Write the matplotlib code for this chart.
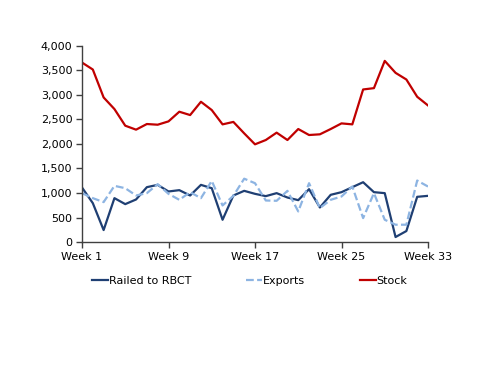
import matplotlib
matplotlib.use("Agg")
import matplotlib.pyplot as plt
from matplotlib.ticker import FuncFormatter

# weekly data
weeks = list(range(1, 34))
railed = [1112, 793, 244, 895, 773, 868, 1119, 1166, 1031, 1058, 949, 1166, 1098,
          454, 949, 1044, 983, 936, 997, 908, 854, 1078, 705, 963, 1017, 1119,
          1220, 1017, 997, 102, 224, 922, 942]
exports = [997, 895, 814, 1146, 1098, 949, 997, 1180, 983, 861, 1017, 895, 1247,
           746, 942, 1292, 1200, 847, 841, 1044, 624, 1200, 692, 861, 929, 1132,
           488, 997, 454, 353, 353, 1254, 1132]
stock = [3661, 3519, 2949, 2712, 2373, 2292, 2407, 2393, 2461, 2658, 2590, 2861,
         2692, 2400, 2450, 2217, 1993, 2081, 2231, 2081, 2305, 2183, 2197, 2305,
         2420, 2400, 3112, 3139, 3695, 3451, 3315, 2963, 2786]
tick_weeks = [1, 9, 17, 25, 33]

plt.rcParams['font.family'] = ['DejaVu Sans']
plt.rcParams['font.size'] = 8

fig = plt.figure(figsize=(5.0, 3.86), dpi=100)
ax = fig.add_axes([0.164, 0.373, 0.692, 0.508])

ax.plot(weeks, railed, color='#1F3F73', lw=1.6, label='Railed to RBCT')
ax.plot(weeks, exports, color='#8DB4E2', lw=1.6, ls=(0, (3.5, 1.5)), label='Exports')
ax.plot(weeks, stock, color='#C00000', lw=1.6, label='Stock')

ax.set_xlim(1, 33)
ax.set_ylim(0, 4000)
ax.set_yticks(range(0, 4001, 500))
ax.yaxis.set_major_formatter(FuncFormatter(lambda v, p: f'{int(v):,}'))
ax.set_xticks(tick_weeks)
ax.set_xticklabels([f'Week {w}' for w in tick_weeks])

for s in ['top', 'right']:
    ax.spines[s].set_visible(False)
for s in ['left', 'bottom']:
    ax.spines[s].set_color('#404040')
    ax.spines[s].set_linewidth(1.0)
ax.tick_params(direction='out', length=4, width=1.0, color='#404040', labelcolor='black', pad=3)

ax.legend(loc='center', bbox_to_anchor=(0.485, -0.2), ncol=3, frameon=False,
          handlelength=1.4, handletextpad=0.05, columnspacing=5.0, fontsize=8)

fig.savefig('out.png', dpi=100)
